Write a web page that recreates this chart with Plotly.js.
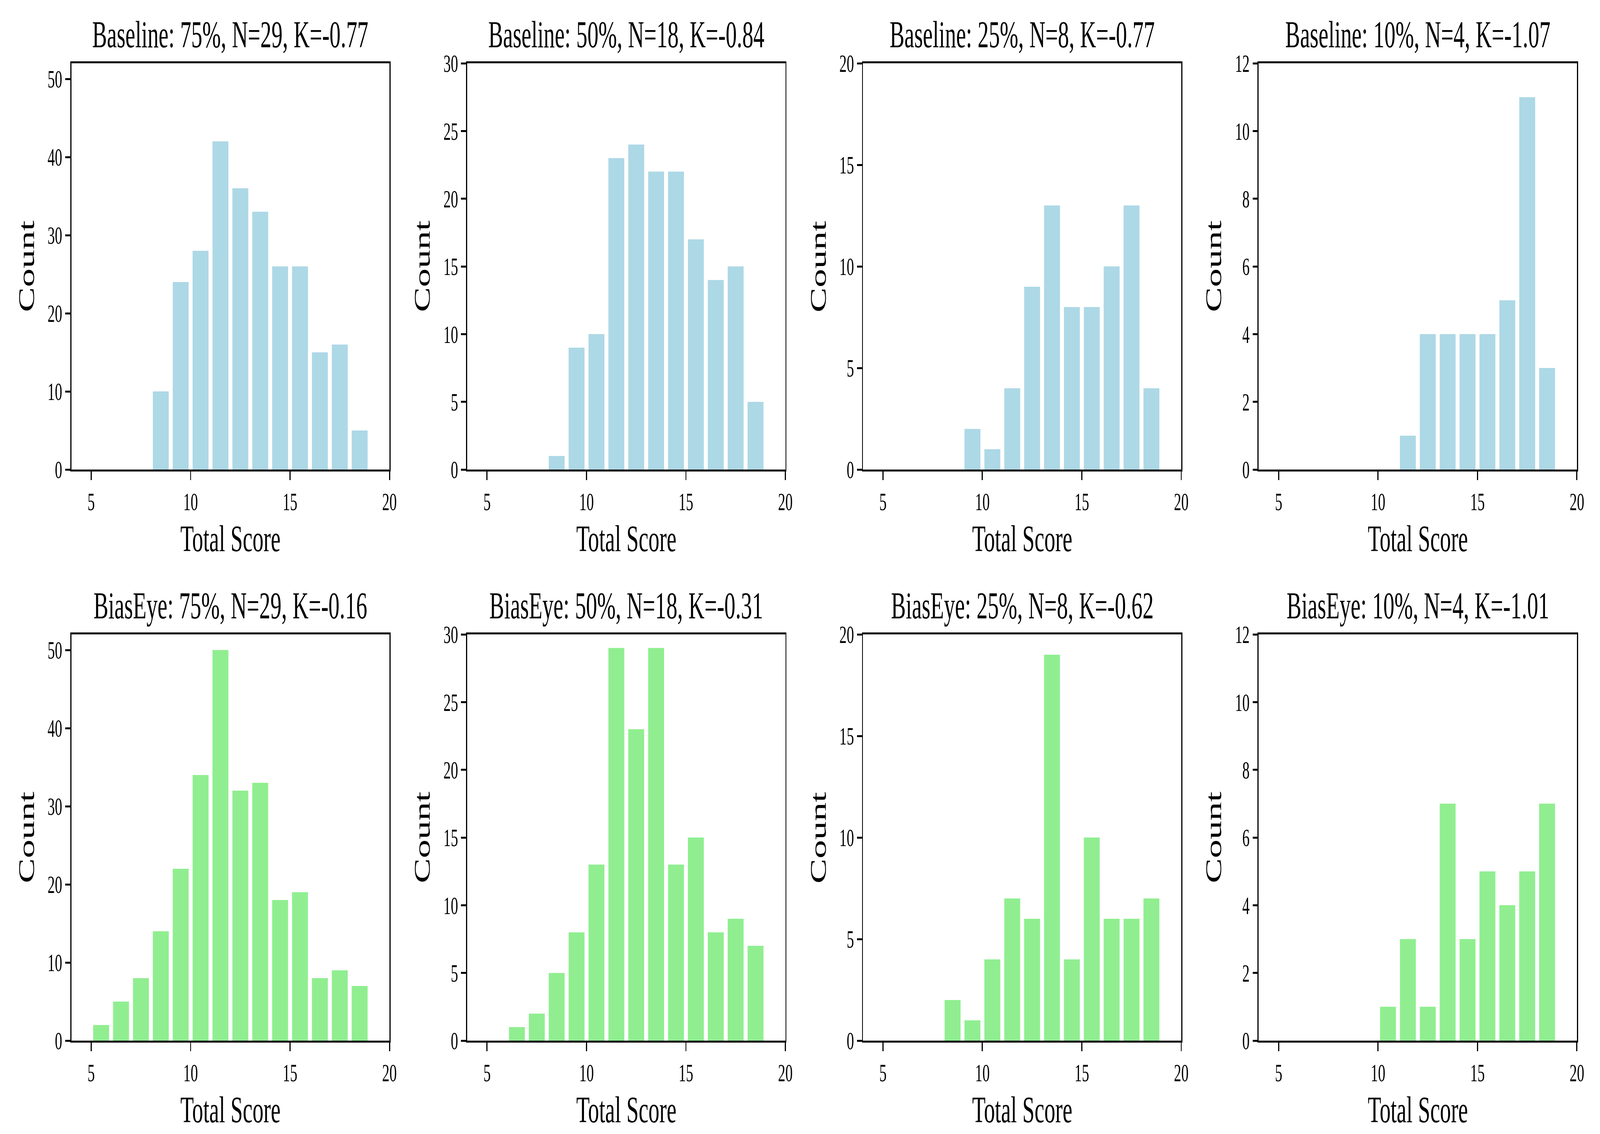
<!DOCTYPE html>
<html>
<head>
<meta charset="utf-8">
<script src="https://cdn.plot.ly/plotly-3.0.1.min.js"></script>
<style>
html,body{margin:0;padding:0;background:#fff;overflow:hidden;}
#wrap{position:absolute;left:0;top:0;width:7000px;height:2903px;transform-origin:0 0;}
</style>
</head>
<body>
<div id="wrap"><div id="chart"></div></div>
<script>
// Bin lower edges (Total Score), bins of width 1
const bins = [5, 6, 7, 8, 9, 10, 11, 12, 13, 14, 15, 16, 17, 18];
const baseline75 = [0, 0, 0, 10, 24, 28, 42, 36, 33, 26, 26, 15, 16, 5];
const baseline50 = [0, 0, 0, 1, 9, 10, 23, 24, 22, 22, 17, 14, 15, 5];
const baseline25 = [0, 0, 0, 0, 2, 1, 4, 9, 13, 8, 8, 10, 13, 4];
const baseline10 = [0, 0, 0, 0, 0, 0, 1, 4, 4, 4, 4, 5, 11, 3];
const biaseye75 = [2, 5, 8, 14, 22, 34, 50, 32, 33, 18, 19, 8, 9, 7];
const biaseye50 = [0, 1, 2, 5, 8, 13, 29, 23, 29, 13, 15, 8, 9, 7];
const biaseye25 = [0, 0, 0, 2, 1, 4, 7, 6, 19, 4, 10, 6, 6, 7];
const biaseye10 = [0, 0, 0, 0, 0, 1, 3, 1, 7, 3, 5, 4, 5, 7];

const titlesTop = ["Baseline: 75%, N=29, K=-0.77", "Baseline: 50%, N=18, K=-0.84", "Baseline: 25%, N=8, K=-0.77", "Baseline: 10%, N=4, K=-1.07"];
const titlesBottom = ["BiasEye: 75%, N=29, K=-0.16", "BiasEye: 50%, N=18, K=-0.31", "BiasEye: 25%, N=8, K=-0.62", "BiasEye: 10%, N=4, K=-1.01"];
const xLabel = "Total Score";
const yLabel = "Count";
const yMax = [52, 30, 20, 12];
const yStep = [10, 5, 5, 2];
const xTicks = [5, 10, 15, 20];

// design canvas (reference size); the whole drawing is fitted to the window
const W = 7000, H = 2903;
const vw = window.innerWidth || W, vh = window.innerHeight || H;
const sx = Math.min(1, vw / W), sy = Math.min(1, vh / H);
document.getElementById("wrap").style.transform = "scale(" + sx + "," + sy + ")";

const FONT = "Liberation Serif, Times New Roman, serif";
const colLeft = [312, 2044, 3776, 5507];
const colWidth = 1392;
const rowTop = [162, 1624];
const rowHeight = 1040;

const series = [
  [baseline75, baseline50, baseline25, baseline10],
  [biaseye75, biaseye50, biaseye25, biaseye10]
];
const colors = ["#ADD8E6", "#90EE90"];
const rowTitles = [titlesTop, titlesBottom];

const centers = bins.map(b => b + 0.5);
const data = [];
const layout = {
  width: W, height: H,
  margin: {l: 0, r: 0, t: 0, b: 0},
  paper_bgcolor: "#fff", plot_bgcolor: "#fff",
  showlegend: false,
  font: {family: FONT, color: "#000", size: 64},
  annotations: []
};

const fx = v => v / W;
const fy = v => 1 - v / H;

let idx = 0;
for (let r = 0; r < 2; r++) {
  for (let c = 0; c < 4; c++) {
    idx++;
    const xa = idx === 1 ? "xaxis" : "xaxis" + idx;
    const ya = idx === 1 ? "yaxis" : "yaxis" + idx;
    const xr = idx === 1 ? "x" : "x" + idx;
    const yr = idx === 1 ? "y" : "y" + idx;
    data.push({
      type: "bar",
      x: centers,
      y: series[r][c],
      width: 0.8,
      marker: {color: colors[r], line: {width: 0}},
      xaxis: xr, yaxis: yr,
      hoverinfo: "skip"
    });
    const left = colLeft[c], right = colLeft[c] + colWidth;
    const top = rowTop[r], bottom = rowTop[r] + rowHeight;
    layout[xa] = {
      domain: [fx(left), fx(right)], anchor: yr, range: [4, 20],
      tickmode: "array", tickvals: xTicks, ticktext: xTicks.map(String),
      ticks: "outside", ticklen: 22, tickwidth: 5, tickcolor: "#000",
      showline: true, linecolor: "#000", linewidth: 5, mirror: true,
      showgrid: false, zeroline: false,
      tickfont: {family: FONT, size: 64, color: "#000"},
      fixedrange: true
    };
    const yt = [];
    for (let v = 0; v <= yMax[c] + 1e-9; v += yStep[c]) yt.push(v);
    layout[ya] = {
      domain: [fy(bottom), fy(top)], anchor: xr, range: [0, yMax[c]],
      tickmode: "array", tickvals: yt, ticktext: yt.map(String),
      ticks: "outside", ticklen: 22, tickwidth: 5, tickcolor: "#000",
      showline: true, linecolor: "#000", linewidth: 5, mirror: true,
      showgrid: false, zeroline: false,
      tickfont: {family: FONT, size: 64, color: "#000"},
      fixedrange: true
    };
    layout.annotations.push({
      text: rowTitles[r][c], xref: "paper", yref: "paper",
      x: fx((left + right) / 2), y: fy(top - 74),
      xanchor: "center", yanchor: "middle", showarrow: false,
      font: {family: FONT, size: 97, color: "#000"}
    });
    layout.annotations.push({
      text: xLabel, xref: "paper", yref: "paper",
      x: fx((left + right) / 2), y: fy(bottom + 176),
      xanchor: "center", yanchor: "middle", showarrow: false,
      font: {family: FONT, size: 96, color: "#000"}
    });
    layout.annotations.push({
      text: yLabel, xref: "paper", yref: "paper",
      x: fx(left - 197), y: fy((top + bottom) / 2),
      xanchor: "center", yanchor: "middle", textangle: -90, showarrow: false,
      font: {family: FONT, size: 96, color: "#000"}
    });
  }
}

Plotly.newPlot("chart", data, layout, {staticPlot: true, displayModeBar: false});
</script>
</body>
</html>
